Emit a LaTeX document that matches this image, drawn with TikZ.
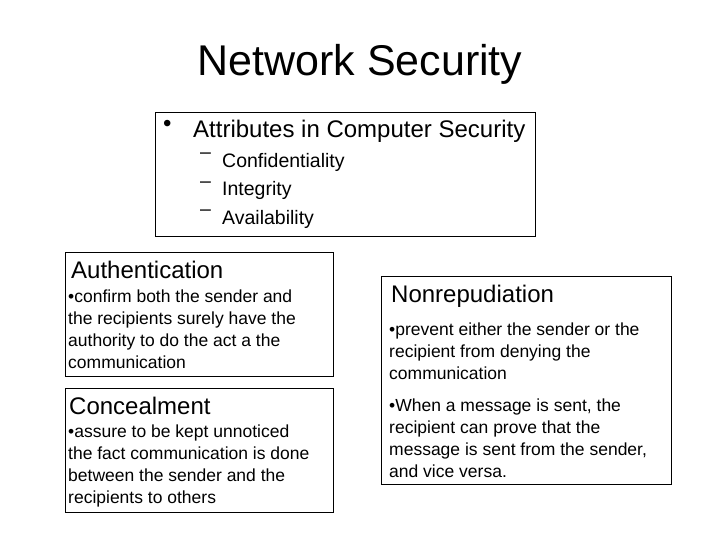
\documentclass[tikz,border=0pt]{standalone}
\usepackage{fontspec}
\setmainfont{Liberation Sans}
\begin{document}
\begin{tikzpicture}[x=1pt,y=-1pt,
  box/.style={draw=black,line width=0.8pt},
  txt/.style={anchor=north west,inner sep=0pt,align=left},
  body/.style={txt,font=\fontsize{17.5}{22}\selectfont},
  head/.style={txt,font=\fontsize{24}{28}\selectfont},
  sub/.style={txt,font=\fontsize{19.5}{28.5}\selectfont}]
\useasboundingbox[fill=white] (0,0) rectangle (720,540);
\node[anchor=north,inner sep=0pt,font=\fontsize{43}{48}\selectfont] (title) at (360,44) {Network Security};
\draw[box] (155,112) rectangle (535,236);
\node[head] (bul) at (163,120) {•};
\node[head] (attr) at (193,120) {Attributes in Computer Security};
\node[sub] (dash) at (200,153) {–\\–\\–};
\node[sub] (items) at (222,153) {Confidentiality\\Integrity\\Availability};
\draw[box] (65,252) rectangle (333,376);
\node[head] (auth) at (71,261) {Authentication};
\node[body] (authb) at (68,290) {•confirm both the sender and\\the recipients surely have the\\authority to do the act a the\\communication};
\draw[box] (65,388) rectangle (333,512);
\node[head] (conc) at (69,397) {Concealment};
\node[body] (concb) at (68,425) {•assure to be kept unnoticed\\the fact communication is done\\between the sender and the\\recipients to others};
\draw[box] (381,276) rectangle (671,484);
\node[head] (nonr) at (391,285) {Nonrepudiation};
\node[body] (nonb1) at (389,323) {•prevent either the sender or the\\recipient from denying the\\communication};
\node[body] (nonb2) at (389,399) {•When a message is sent, the\\recipient can prove that the\\message is sent from the sender,\\and vice versa.};
\end{tikzpicture}
\end{document}
